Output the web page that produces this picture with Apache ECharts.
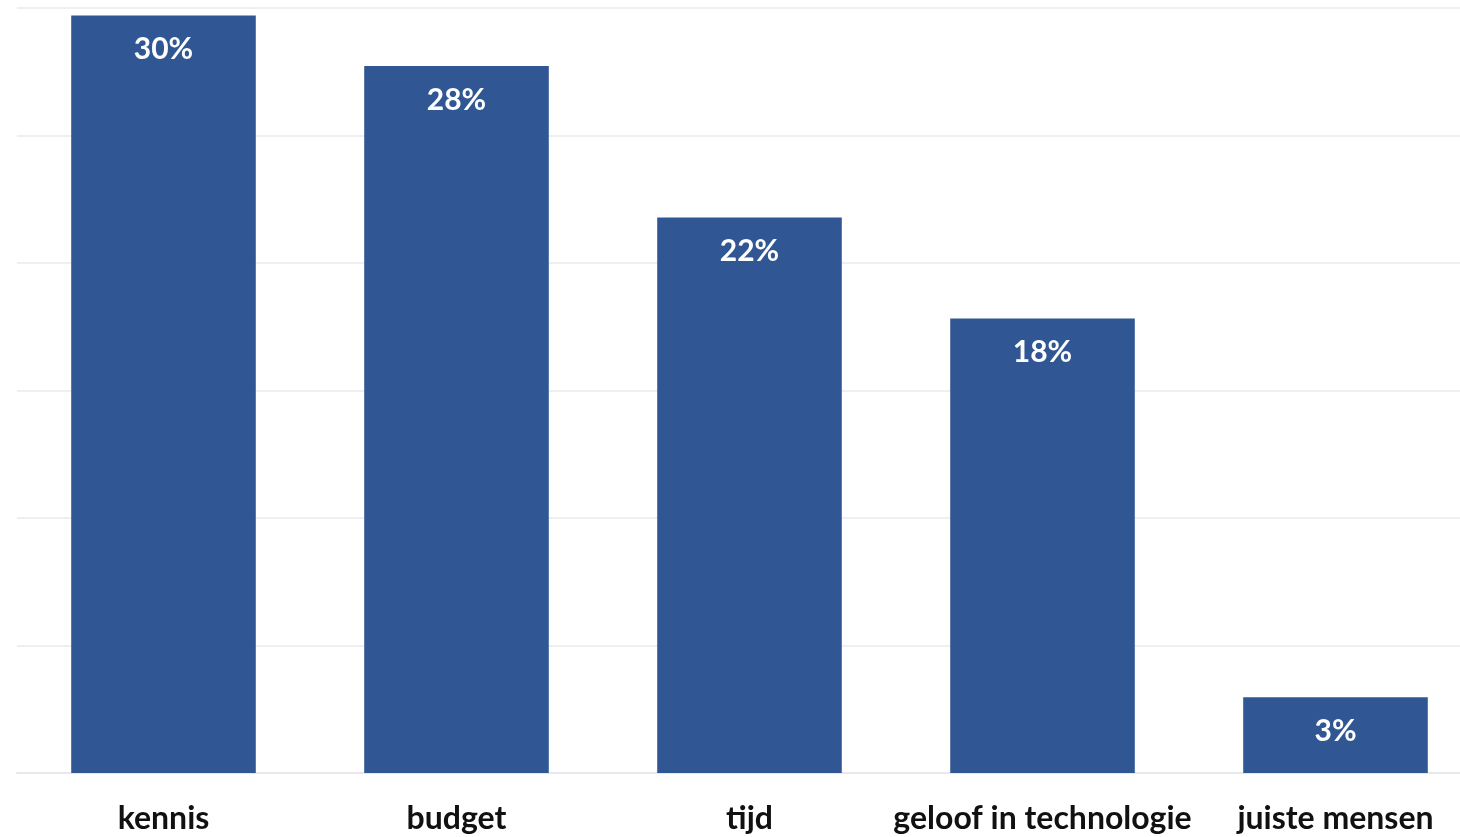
<!DOCTYPE html>
<html>
<head>
<meta charset="utf-8">
<script src="https://cdn.jsdelivr.net/npm/echarts@6/dist/echarts.min.js"></script>
<style>
  html, body { margin: 0; padding: 0; background: #fff; }
  #chart { width: 1460px; height: 837px; }
</style>
</head>
<body>
<div id="chart"></div>
<script>
const categories = ['kennis', 'budget', 'tijd', 'geloof in technologie', 'juiste mensen'];
const values = [30, 28, 22, 18, 3];

const chart = echarts.init(document.getElementById('chart'));
chart.setOption({
  animation: false,
  // grid runs past the right edge, the reference is cropped there
  grid: { left: 17, top: 8, right: -22, bottom: 64, outerBoundsMode: 'none', containLabel: false },
  xAxis: {
    type: 'category',
    data: categories,
    axisTick: { show: false },
    axisLine: { lineStyle: { color: '#e6e8ec', width: 2 } },
    axisLabel: {
      color: '#111',
      fontFamily: 'Lato',
      fontWeight: 'bold',
      fontSize: 32,
      margin: 30,
      interval: 0
    }
  },
  yAxis: {
    type: 'value',
    min: 0,
    max: 30.3,
    interval: 5.05,
    axisLabel: { show: false },
    axisLine: { show: false },
    axisTick: { show: false },
    splitLine: { lineStyle: { color: '#eeeff2', width: 2 } }
  },
  series: [{
    type: 'bar',
    data: values,
    barWidth: '63%',
    itemStyle: { color: '#305793' },
    label: {
      show: true,
      position: 'insideTop',
      distance: 19,
      formatter: '{c}%',
      color: '#fff',
      fontFamily: 'Lato',
      fontWeight: 'bold',
      fontSize: 30
    }
  }]
});
</script>
</body>
</html>
